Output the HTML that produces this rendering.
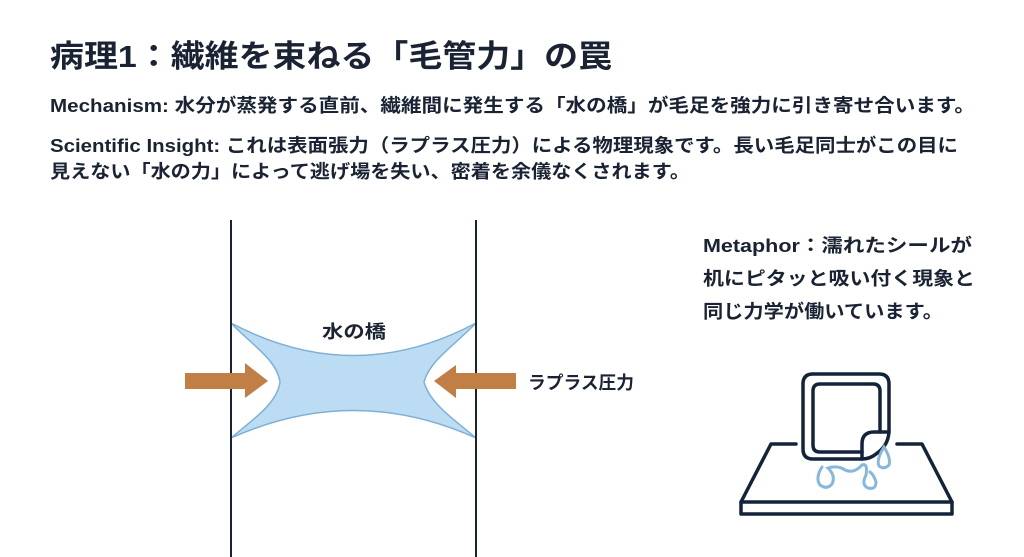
<!DOCTYPE html>
<html><head><meta charset="utf-8"><style>
html,body{margin:0;padding:0;background:#fff;width:1024px;height:557px;overflow:hidden}
text{font-family:"Liberation Sans","Noto Sans CJK JP",sans-serif;font-weight:bold;fill:#1a2333}
</style></head><body>
<svg width="1024" height="557" viewBox="0 0 1024 557" xmlns="http://www.w3.org/2000/svg">
<text x="50" y="67" font-size="31" textLength="562" lengthAdjust="spacingAndGlyphs">病理1：繊維を束ねる「毛管力」の罠</text>
<text x="50" y="112" font-size="18.5" textLength="925" lengthAdjust="spacingAndGlyphs">Mechanism: 水分が蒸発する直前、繊維間に発生する「水の橋」が毛足を強力に引き寄せ合います。</text>
<text x="50" y="152" font-size="18.5" textLength="908" lengthAdjust="spacingAndGlyphs">Scientific Insight: これは表面張力（ラプラス圧力）による物理現象です。長い毛足同士がこの目に</text>
<text x="50" y="178" font-size="18.5" textLength="640" lengthAdjust="spacingAndGlyphs">見えない「水の力」によって逃げ場を失い、密着を余儀なくされます。</text>
<text x="703" y="252" font-size="18.5" textLength="269" lengthAdjust="spacingAndGlyphs">Metaphor：濡れたシールが</text>
<text x="703" y="285" font-size="18.5" textLength="272" lengthAdjust="spacingAndGlyphs">机にピタッと吸い付く現象と</text>
<text x="703" y="318" font-size="18.5" textLength="240" lengthAdjust="spacingAndGlyphs">同じ力学が働いています。</text>
<!-- water bridge -->
<path d="M231,323 Q354,388 476,323 C455,345 430,360 424,382 C430,404 455,420 476,438 Q354,383 231,438 C252,420 277,404 280,382 C277,360 252,345 231,323 Z" fill="#bcdcf3" stroke="#7fb0d6" stroke-width="1.5"/>
<line x1="231" y1="220" x2="231" y2="557" stroke="#1a2333" stroke-width="2"/>
<line x1="476" y1="220" x2="476" y2="557" stroke="#1a2333" stroke-width="2"/>
<text x="322" y="338" font-size="18" textLength="64" lengthAdjust="spacingAndGlyphs">水の橋</text>
<text x="528" y="389" font-size="18" textLength="106" lengthAdjust="spacingAndGlyphs">ラプラス圧力</text>
<path d="M185,373 L245,373 L245,363 L268,381 L245,398 L245,389 L185,389 Z" fill="#c17e45"/>
<path d="M516,373 L456,373 L456,365 L434,381 L456,398 L456,389 L516,389 Z" fill="#c17e45"/>
<!-- sticker icon -->
<g fill="none" stroke="#13233a" stroke-width="3.5" stroke-linejoin="round" stroke-linecap="round">
<path d="M796,444 L771,444 L741,502 L741,514 L952,514 L952,502 L922,444 L897,444"/>
<line x1="741" y1="502" x2="952" y2="502"/>
<path d="M862,459 L813,459 Q803,459 803,449 L803,384 Q803,374 813,374 L879,374 Q889,374 889,384 L889,432"/>
<path d="M862,452 L820,452 Q813,452 813,445 L813,391 Q813,384 820,384 L873,384 Q880,384 880,391 L880,432"/>
<path d="M862,459 L862,444 Q862,432 874,432 L889,432 Q888,446 876,454 Q870,459 862,459 Z"/>
</g>
<g fill="none" stroke="#86b7dc" stroke-width="3" stroke-linecap="round">
<path d="M822,467 Q815,478 820,485 Q827,490 832,484 Q836,476 828,468 Q838,465 845,470 Q854,474 862,465 Q868,463 866,475 Q861,485 868,488 Q876,490 876,482 Q874,475 870,472"/>
<path d="M884,447 Q876,460 879,466 Q884,470 889,465 Q891,458 884,447 Z"/>
</g>
</svg>
</body></html>
